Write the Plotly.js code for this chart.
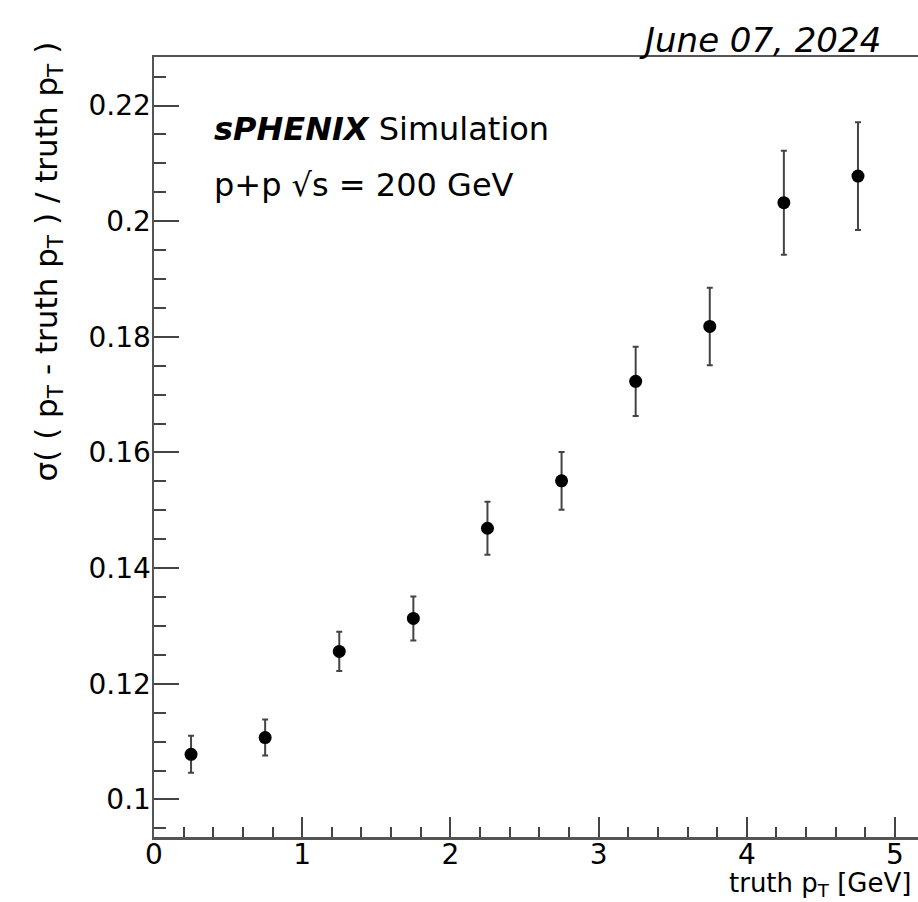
<!DOCTYPE html>
<html>
<head>
<meta charset="utf-8">
<script src="https://cdn.plot.ly/plotly-3.0.1.min.js"></script>
<style>html,body{margin:0;padding:0;background:#fff;}#chart{width:918px;height:902px;}</style>
</head>
<body>
<div id="chart"></div>
<script>
// Bin centres of truth pT [GeV]
const ptCenters = [0.25, 0.75, 1.25, 1.75, 2.25, 2.75, 3.25, 3.75, 4.25, 4.75];
// sigma((pT - truth pT)/truth pT)
const resolution = [0.1078, 0.1107, 0.1256, 0.1313, 0.1469, 0.1551, 0.1723, 0.1818, 0.2032, 0.2078];
// Statistical uncertainties
const resolutionErr = [0.0032, 0.0031, 0.0034, 0.0038, 0.0046, 0.0050, 0.0060, 0.0067, 0.0090, 0.0093];
// Tick labels
const xTickVals = [0, 1, 2, 3, 4, 5];
const xTickText = ["0", "1", "2", "3", "4", "5"];
const yTickVals = [0.1, 0.12, 0.14, 0.16, 0.18, 0.2, 0.22];
const yTickText = ["0.1", "0.12", "0.14", "0.16", "0.18", "0.2", "0.22"];

const font = "DejaVu Sans, Arial, sans-serif";

const trace = {
  x: ptCenters,
  y: resolution,
  type: "scatter",
  mode: "markers",
  marker: {color: "#000", size: 13, symbol: "circle"},
  error_y: {type: "data", array: resolutionErr, visible: true, color: "#444", thickness: 2, width: 3},
  showlegend: false,
  hoverinfo: "x+y"
};

// plot-area pixel geometry
const L = 153.5, R = 918, T = 57.3, B = 836.7;
const px = x => (x - L) / (R - L);
const py = y => (B - y) / (B - T);

const layout = {
  width: 918, height: 902,
  margin: {l: L, r: 918 - R, t: T, b: 902 - B, pad: 0},
  paper_bgcolor: "#fff", plot_bgcolor: "#fff",
  font: {family: font, size: 28, color: "#000"},
  xaxis: {
    range: [0, 5.155], showgrid: false, zeroline: false,
    showline: true, linecolor: "#555", linewidth: 2.5, mirror: true,
    ticks: "inside", ticklen: 20, tickwidth: 2, tickcolor: "#444",
    tickvals: xTickVals, ticktext: xTickText,
    minor: {dtick: 0.2, ticks: "inside", ticklen: 10, tickwidth: 2, tickcolor: "#444", showgrid: false},
    tickfont: {family: font, size: 28, color: "#000"},
    ticklabelstandoff: -9
  },
  yaxis: {
    range: [0.0935, 0.2284], showgrid: false, zeroline: false,
    showline: true, linecolor: "#555", linewidth: 2.5, mirror: false,
    ticks: "inside", ticklen: 25, tickwidth: 2, tickcolor: "#444",
    tickvals: yTickVals, ticktext: yTickText,
    minor: {dtick: 0.005, ticks: "inside", ticklen: 12, tickwidth: 2, tickcolor: "#444", showgrid: false},
    tickfont: {family: font, size: 28, color: "#000"},
    ticklabelstandoff: -5
  },
  annotations: [
    {xref: "paper", yref: "paper", x: px(212), y: py(129), xanchor: "left", yanchor: "middle",
     text: "<b><i>sPHENIX</i></b> Simulation", showarrow: false, font: {family: font, size: 32, color: "#000"}},
    {xref: "paper", yref: "paper", x: px(212), y: py(185), xanchor: "left", yanchor: "middle",
     text: "p+p √s = 200 GeV", showarrow: false, font: {family: font, size: 32, color: "#000"}},
    {xref: "paper", yref: "paper", x: px(883), y: py(40), xanchor: "right", yanchor: "middle",
     text: "<i>June 07, 2024</i>", showarrow: false, font: {family: font, size: 34, color: "#000"}},
    {xref: "paper", yref: "paper", x: px(48), y: py(262), xanchor: "center", yanchor: "middle", textangle: -90,
     text: "σ( ( p<sub>T</sub> - truth p<sub>T</sub> ) / truth p<sub>T</sub> )", showarrow: false,
     font: {family: font, size: 31, color: "#000"}},
    {xref: "paper", yref: "paper", x: px(913), y: py(884), xanchor: "right", yanchor: "middle",
     text: "truth p<sub>T</sub> [GeV]", showarrow: false, font: {family: font, size: 26, color: "#000"}}
  ]
};

Plotly.newPlot("chart", [trace], layout, {displayModeBar: false, staticPlot: true});
</script>
</body>
</html>
